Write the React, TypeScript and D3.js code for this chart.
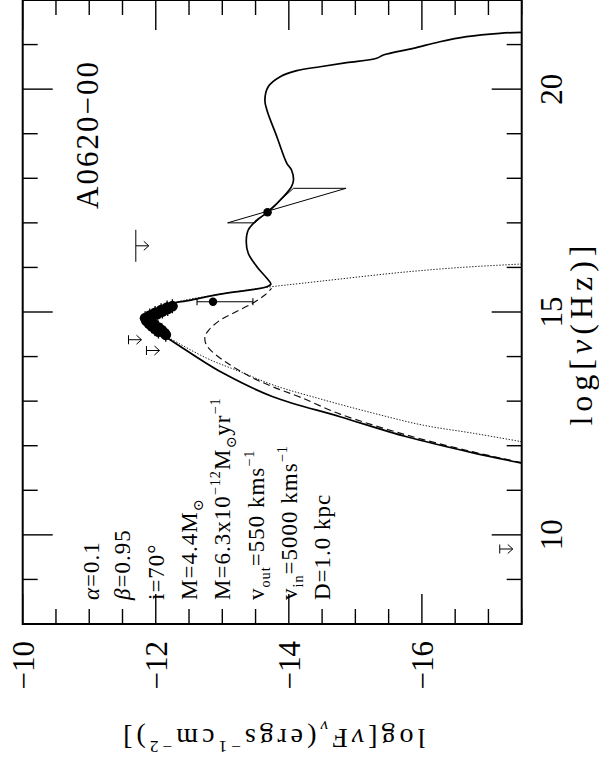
import React, { useEffect, useRef } from 'react';
import * as d3 from 'd3';

// log nu (Hz) and log nuFnu (erg s^-1 cm^-2)
const totalNu = [11.61, 11.84, 12.2, 12.65, 13.1, 13.63, 14.08, 14.44, 14.55, 14.69, 14.84, 14.91, 15.03, 15.195, 15.25, 15.4, 15.567, 15.628, 15.756, 16.016, 16.317, 16.577, 16.84, 17.064, 17.237, 17.587, 17.811, 17.961, 18.186, 18.336, 18.933, 19.532, 19.756, 20.055, 20.279, 20.414, 20.503, 20.593, 20.692, 20.766, 20.916, 21.064, 21.177, 21.253, 21.275];
const totalF = [-17.5, -16.77, -15.77, -14.77, -13.76, -13.01, -12.52, -12.15, -12.03, -11.91, -11.85, -11.88, -12.03, -12.26, -12.46, -12.97, -13.67, -13.73, -13.67, -13.52, -13.39, -13.36, -13.39, -13.52, -13.68, -13.92, -14.04, -14.07, -14.04, -13.97, -13.82, -13.67, -13.64, -13.69, -13.87, -14.12, -14.47, -14.87, -15.32, -15.42, -15.87, -16.27, -16.67, -17.17, -17.5];

const adafNu = [11.62, 11.86, 12.24, 12.71, 13.09, 13.32, 13.55, 13.86, 14.15, 14.3, 14.45, 14.6, 14.82, 15.0, 15.2, 15.38, 15.53];
const adafF = [-17.5, -16.77, -15.77, -14.77, -14.17, -13.76, -13.42, -13.07, -12.82, -12.75, -12.74, -12.8, -12.97, -13.2, -13.46, -13.64, -13.74];

const diskNu = [12.09, 12.28, 12.46, 12.73, 13.03, 13.36, 13.66, 13.96, 14.41, 14.6, 14.84, 15.03, 15.2, 15.4, 15.567, 15.639, 15.74, 15.886, 15.998, 16.077];
const diskF = [-17.5, -16.77, -16.02, -15.27, -14.52, -13.77, -13.27, -12.77, -12.21, -11.99, -11.87, -12.04, -12.27, -12.97, -13.74, -14.17, -14.77, -15.67, -16.57, -17.5];

// optical / UV spectrum points
const optNu = [15.13, 15.1, 15.07, 15.04, 15.01, 14.98, 14.95, 14.92, 14.89, 14.86, 14.83, 14.8, 14.77, 14.74, 14.71, 14.68, 14.65, 14.62, 14.59, 14.56, 14.53, 14.49];
const optF = [-12.25, -12.17, -12.18, -12.08, -12.1, -11.99, -12.02, -11.91, -11.93, -11.84, -11.88, -11.86, -11.93, -11.9, -11.98, -11.94, -12.04, -11.99, -12.09, -12.04, -12.13, -12.15];

// single point with error bar
const errNu = [15.23];
const errF = [-12.86];
const errHi = [-12.62];
const errLo = [-13.46];

// upper limits
const bigLimNu = [16.485];
const bigLimF = [-11.7];
const limNu = [14.378, 14.136, 9.683];
const limF = [-11.59, -11.86, -17.17];

// X-ray bowtie
const xrayNu = [17.0, 17.775];
const xraySoftF = [-13.08, -14.86];
const xrayHardF = [-13.49, -14.07];
const xrayPivotNu = 17.237;
const xrayPivotF = -13.68;

const nuMajor = [10, 15, 20];
const fluxMajor = [-10, -12, -14, -16];

const title = 'A0620\u221200';

// [text, level (1 sup, -1 sub, 0 normal), italic]
type Part = [string, number, boolean?];
const params: Part[][] = [
  [['\u03b1', 0, true], ['=0.1', 0]],
  [['\u03b2', 0, true], ['=0.95', 0]],
  [['i=70\u00b0', 0]],
  [['M=4.4M', 0], ['\u2299', -1]],
  [['M=6.3x10', 0], ['\u221212', 1], ['M', 0], ['\u2299', -1], ['yr', 0], ['\u22121', 1]],
  [['v', 0], ['out', -1], ['=550 kms', 0], ['\u22121', 1]],
  [['v', 0], ['in', -1], ['=5000 kms', 0], ['\u22121', 1]],
  [['D=1.0 kpc', 0]],
];

const W = 599;
const H = 764;
const FONT = '"Liberation Serif", "DejaVu Serif", serif';

const App: React.FC = () => {
  const ref = useRef<SVGSVGElement>(null);

  useEffect(() => {
    if (!ref.current) return;
    const svg = d3.select(ref.current);
    svg.selectAll('*').remove();

    const left = 22.7, right = 521.7, top = 0, bottom = 624;
    const y = d3.scaleLinear().domain([8, 22]).range([bottom, top]);
    const x = d3.scaleLinear().domain([-10, -17.5]).range([left, right]);

    svg.append('rect').attr('width', W).attr('height', H).attr('fill', '#fff');

    svg.append('clipPath').attr('id', 'plot')
      .append('rect').attr('x', left).attr('y', top)
      .attr('width', right - left).attr('height', bottom - top);

    const plot = svg.append('g').attr('clip-path', 'url(#plot)');

    const line = d3.line<[number, number]>()
      .x(d => x(d[1]))
      .y(d => y(d[0]))
      .curve(d3.curveCatmullRom.alpha(0.5));

    const pairs = (a: number[], b: number[]) => a.map((v, i) => [v, b[i]] as [number, number]);

    // disk (dotted)
    plot.append('path')
      .attr('d', line(pairs(diskNu, diskF)))
      .attr('fill', 'none').attr('stroke', '#222')
      .attr('stroke-width', 1).attr('stroke-dasharray', '1.4,1.6');

    // ADAF (dashed)
    plot.append('path')
      .attr('d', line(pairs(adafNu, adafF)))
      .attr('fill', 'none').attr('stroke', '#111')
      .attr('stroke-width', 1.2).attr('stroke-dasharray', '7,4');

    // total (solid)
    plot.append('path')
      .attr('d', line(pairs(totalNu, totalF)))
      .attr('fill', 'none').attr('stroke', '#000')
      .attr('stroke-width', 1.7);

    // bowtie
    const bow: [number, number][] = [
      [x(xraySoftF[0]), y(xrayNu[0])],
      [x(xrayHardF[0]), y(xrayNu[0])],
      [x(xrayHardF[1]), y(xrayNu[1])],
      [x(xraySoftF[1]), y(xrayNu[1])],
    ];
    plot.append('path')
      .attr('d', 'M' + bow.map(p => p.join(',')).join('L') + 'Z')
      .attr('fill', 'none').attr('stroke', '#000').attr('stroke-width', 1);
    plot.append('circle')
      .attr('cx', x(xrayPivotF)).attr('cy', y(xrayPivotNu)).attr('r', 4.3)
      .attr('fill', '#000');

    // optical/UV points
    optNu.forEach((n, i) => {
      const cx = x(optF[i]), cy = y(n);
      plot.append('line')
        .attr('x1', cx).attr('x2', cx).attr('y1', cy - 7).attr('y2', cy + 7)
        .attr('stroke', '#000').attr('stroke-width', 1.3);
      plot.append('circle').attr('cx', cx).attr('cy', cy).attr('r', 5.4).attr('fill', '#000');
    });

    // point with error bar
    errNu.forEach((n, i) => {
      const cy = y(n);
      const x1 = x(errHi[i]), x2 = x(errLo[i]);
      plot.append('line').attr('x1', x1).attr('x2', x2).attr('y1', cy).attr('y2', cy)
        .attr('stroke', '#000').attr('stroke-width', 1.1);
      [x1, x2].forEach(cx => plot.append('line')
        .attr('x1', cx).attr('x2', cx).attr('y1', cy - 3.5).attr('y2', cy + 3.5)
        .attr('stroke', '#000').attr('stroke-width', 1.1));
      plot.append('circle').attr('cx', x(errF[i])).attr('cy', cy).attr('r', 4.2).attr('fill', '#000');
    });

    // upper limits: bar + arrow toward lower flux
    const limit = (n: number, f: number, bar: number) => {
      const cx = x(f), cy = y(n);
      const len = 13;
      const p = `M${cx},${cy - bar / 2}L${cx},${cy + bar / 2}M${cx},${cy}L${cx + len},${cy}` +
        `M${cx + len - 5},${cy - 4.5}L${cx + len},${cy}L${cx + len - 5},${cy + 4.5}`;
      plot.append('path').attr('d', p).attr('fill', 'none')
        .attr('stroke', '#000').attr('stroke-width', 1);
    };
    bigLimNu.forEach((n, i) => limit(n, bigLimF[i], 32));
    limNu.forEach((n, i) => limit(n, limF[i], 9));

    // frame and ticks
    const ax = svg.append('g').attr('stroke', '#000').attr('fill', 'none');
    y.ticks(14).forEach(v => {
      const len = nuMajor.includes(v) ? 30 : 15;
      ax.append('line').attr('x1', left).attr('x2', left + len).attr('y1', y(v)).attr('y2', y(v)).attr('stroke-width', 1.4);
      ax.append('line').attr('x1', right).attr('x2', right - len).attr('y1', y(v)).attr('y2', y(v)).attr('stroke-width', 1.4);
    });
    x.ticks(15).forEach(v => {
      const len = fluxMajor.includes(v) ? 30 : 15;
      ax.append('line').attr('x1', x(v)).attr('x2', x(v)).attr('y1', bottom).attr('y2', bottom - len).attr('stroke-width', 1.4);
      ax.append('line').attr('x1', x(v)).attr('x2', x(v)).attr('y1', top).attr('y2', top + len).attr('stroke-width', 1.4);
    });
    ax.append('rect').attr('x', left).attr('y', top)
      .attr('width', right - left).attr('height', bottom - top).attr('stroke-width', 2);

    // rich text helper (sub/superscripts)
    const rich = (t: d3.Selection<SVGTextElement, unknown, null, undefined>, parts: Part[], size: number) => {
      let off = 0;
      parts.forEach(([s, lvl, it]) => {
        const target = lvl === 1 ? -0.42 * size : lvl === -1 ? 0.28 * size : 0;
        t.append('tspan')
          .attr('dy', target - off)
          .attr('font-size', lvl === 0 ? size : size * 0.62)
          .attr('font-style', it ? 'italic' : null)
          .text(s);
        off = target;
      });
    };

    const txt = svg.append('g').attr('font-family', FONT).attr('fill', '#000');

    // log nu tick labels (right side, rotated)
    nuMajor.forEach(v => {
      txt.append('text')
        .attr('transform', `translate(562,${y(v)}) rotate(-90)`)
        .attr('text-anchor', 'middle').attr('font-size', 31)
        .text(String(v));
    });
    // flux tick labels (bottom, rotated)
    fluxMajor.forEach(v => {
      txt.append('text')
        .attr('transform', `translate(${x(v) + 10.8},641) rotate(-90)`)
        .attr('text-anchor', 'end').attr('font-size', 31)
        .text('\u2212' + Math.abs(v));
    });

    // axis titles
    const tNu = txt.append('text')
      .attr('transform', `translate(592,333) rotate(-90)`)
      .attr('text-anchor', 'middle').attr('font-size', 32).attr('letter-spacing', 5);
    rich(tNu, [['log[', 0], ['\u03bd', 0, true], ['(Hz)]', 0]], 32);

    const tF = txt.append('text')
      .attr('transform', `translate(${(left + right) / 2},729) rotate(180)`)
      .attr('text-anchor', 'middle').attr('font-size', 28).attr('letter-spacing', 4);
    rich(tF, [['log[', 0], ['\u03bd', 0, true], ['F', 0], ['\u03bd', -1, true], ['(ergs', 0], ['\u22121', 1], ['cm', 0], ['\u22122', 1], [')]', 0]], 28);

    // object name
    txt.append('text')
      .attr('transform', `translate(98.3,60) rotate(-90)`)
      .attr('text-anchor', 'end').attr('font-size', 31).attr('letter-spacing', 2)
      .text(title);

    // model parameters
    const baselines = [99, 130.3, 163.6, 197, 230, 263.6, 297, 330];
    params.forEach((parts, i) => {
      const t = txt.append('text')
        .attr('transform', `translate(${baselines[i]},600) rotate(-90)`)
        .attr('font-size', 23).attr('letter-spacing', 1);
      rich(t, parts, 23);
    });
  }, []);

  return (
    <svg
      ref={ref}
      width={W}
      height={H}
      style={{ position: 'absolute', left: 0, top: 0, display: 'block' }}
    />
  );
};

export default App;
